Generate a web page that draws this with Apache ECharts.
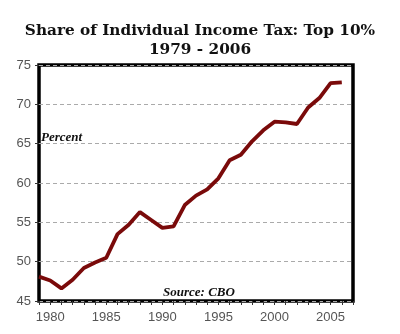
<!DOCTYPE html>
<html><head><meta charset="utf-8">
<script src="https://cdn.jsdelivr.net/npm/echarts@6/dist/echarts.min.js"></script>
<style>html,body{margin:0;padding:0;background:#fff}#c{width:400px;height:334px}</style>
</head><body><div id="c"></div>
<script>
const years = [1979,1980,1981,1982,1983,1984,1985,1986,1987,1988,1989,1990,1991,1992,1993,1994,1995,1996,1997,1998,1999,2000,2001,2002,2003,2004,2005,2006];
const shareTop10 = [48.1,47.6,46.6,47.7,49.2,49.9,50.5,53.5,54.7,56.3,55.3,54.3,54.5,57.2,58.4,59.2,60.6,62.9,63.6,65.3,66.7,67.8,67.7,67.5,69.6,70.8,72.7,72.8];
const yTicks = [45,50,55,60,65,70,75];
const titleLines = ['Share of Individual Income Tax: Top 10%','1979 - 2006'];

const chart = echarts.init(document.getElementById('c'), null, {renderer:'canvas'});
chart.setOption({
  animation:false,
  backgroundColor:'#fff',
  title:{
    text: titleLines.join('\n'),
    left:'center', top:17,
    textStyle:{fontFamily:'DejaVu Serif', fontWeight:'bold', fontSize:15.3, color:'#111', lineHeight:19}
  },
  grid:{left:39, right:47, top:65, bottom:33, show:true, borderColor:'#000', borderWidth:3.5, backgroundColor:'transparent'},
  xAxis:{
    type:'value', min:1979, max:2007, interval:1,
    axisLine:{show:false},
    axisTick:{show:true, length:4, lineStyle:{color:'#333', width:1}},
    splitLine:{show:false},
    axisLabel:{color:'#555', fontFamily:'Liberation Sans', fontSize:13, margin:10,
      formatter:v => (v % 5 === 0 ? String(v) : '')}
  },
  yAxis:{
    type:'value', min:yTicks[0], max:yTicks[yTicks.length-1], interval:5,
    axisLine:{show:false},
    axisTick:{show:true, length:4, lineStyle:{color:'#333', width:1}},
    splitLine:{show:true, lineStyle:{color:'#aaa', type:[4,3], width:1}},
    axisLabel:{color:'#555', fontFamily:'Liberation Sans', fontSize:13, margin:8}
  },
  graphic:[
    {type:'text', left:41, top:131, style:{text:'Percent', font:'italic bold 13px "Liberation Serif"', fill:'#111'}},
    {type:'text', left:163, top:286, style:{text:'Source: CBO', font:'italic bold 13px "Liberation Serif"', fill:'#111'}}
  ],
  series:[{
    type:'line', data: years.map((y,i)=>[y, shareTop10[i]]),
    showSymbol:false, lineStyle:{color:'#7a0a0a', width:3.8}, z:3
  }]
});
</script></body></html>
